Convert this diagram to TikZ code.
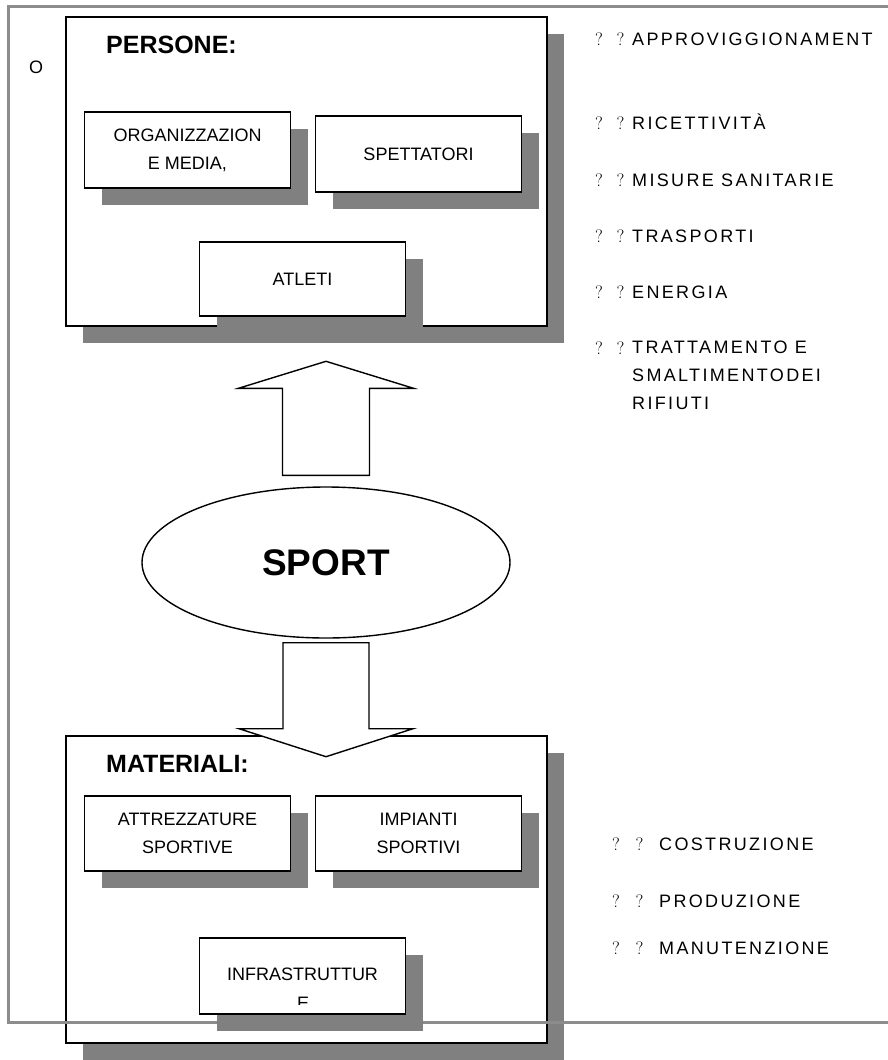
\documentclass[tikz,border=0pt]{standalone}
\usepackage{fontspec}
\usetikzlibrary{shapes.geometric,shadows}
\newfontfamily\boxfont{Liberation Sans}
\newfontfamily\listfont[LetterSpace=13]{Liberation Sans}
\definecolor{shadowgray}{RGB}{128,128,128}
\definecolor{framegray}{RGB}{140,140,140}

\begin{document}
\begin{tikzpicture}[x=1pt, y=-1pt,
		shadowed/.style={drop shadow={shadow xshift=17pt, shadow yshift=-17pt, opacity=1, fill=shadowgray}},
		groupbox/.style={draw, rectangle, line width=1.8pt, fill=white, shadowed, minimum width=481pt, inner sep=0pt},
		itembox/.style={draw, rectangle, line width=1.8pt, fill=white, shadowed, minimum width=206pt, minimum height=76pt, inner sep=0pt, align=center, font=\boxfont\fontsize{18}{28}\selectfont},
		boxtext/.style={anchor=base, inner sep=0pt, font=\boxfont\fontsize{18}{28}\selectfont},
		title/.style={anchor=base west, inner sep=0pt, font=\boxfont\bfseries\fontsize{25}{30}\selectfont},
		qmark/.style={anchor=base west, inner sep=0pt, font=\fontsize{18}{28}\selectfont},
		listitem/.style={anchor=base west, inner sep=0pt, align=left, font=\listfont\fontsize{18}{28}\selectfont},
		bigarrow/.style={draw, line width=1.4pt, fill=white, line join=miter}]
					\useasboundingbox (0,0) rectangle (888,1060);
					\node[groupbox, minimum height=309pt] (persone) at (306.5,171.5) {};
					\node[groupbox, minimum height=307pt] (materiali) at (306.5,889.5) {};
					\draw[framegray, line width=3pt, line join=miter] (888,6) -- (8,6) -- (8,1022) -- (888,1022);
					\node[itembox] (org) at (187.5,150) {ORGANIZZAZION\\E MEDIA,};
					\node[itembox] (spett) at (418.5,154) {SPETTATORI};
					\node[itembox, minimum height=74pt] (atleti) at (302.5,279) {ATLETI};
					\node[itembox, minimum height=75pt] (attrezz) at (187.5,833.5) {ATTREZZATURE\\SPORTIVE};
					\node[itembox, minimum height=75pt] (impianti) at (418.5,833.5) {IMPIANTI\\SPORTIVI};
					\node[itembox] (infra) at (302.5,976) {};
					\begin{scope}
						\clip (200,938) rectangle (405,1004.5);
						\node[boxtext] (infratext) at (302.5,980) {INFRASTRUTTUR};
						\node[boxtext] (infratextb) at (303,1009) {E};
					\end{scope}
					\node[draw, ellipse, line width=1.4pt, fill=white, minimum width=368pt, minimum height=151pt, inner sep=0pt, font=\boxfont\bfseries\fontsize{37}{40}\selectfont] (sport) at (326,562.5) {SPORT};
					\coordinate (uptail) at ([yshift=11pt]sport.north);
					\coordinate (downtail) at ([yshift=-4pt]sport.south);
					\draw[bigarrow] (uptail) ++(-43.5,0) -- ++(0,-87) -- ++(-44,0) -- ++(87.5,-27) -- ++(87.5,27) -- ++(-44,0) -- ++(0,87) -- cycle;
					\draw[bigarrow] (downtail) ++(-43,0) -- ++(0,86) -- ++(-44,0) -- ++(87,28) -- ++(87,-28) -- ++(-44,0) -- ++(0,-86) -- cycle;
					\node[title] (personetitle) at (106,53) {PERSONE:};
					\node[title] (materialititle) at (106,772) {MATERIALI:};
					\node[boxtext] (o) at (36,73.5) {O};
					\node[qmark] (q1) at (595,45) {?\hspace{13.5pt}?};
					\node[listitem] (r1) at (632,45) {APPROVIGGIONAMENT};
					\node[qmark] (q2) at (595,129) {?\hspace{13.5pt}?};
					\node[listitem] (r2) at (632,129) {RICETTIVITÀ};
					\node[qmark] (q3) at (595,186) {?\hspace{13.5pt}?};
					\node[listitem] (r3) at (632,186) {MISURE SANITARIE};
					\node[qmark] (q4) at (595,242) {?\hspace{13.5pt}?};
					\node[listitem] (r4) at (632,242) {TRASPORTI};
					\node[qmark] (q5) at (595,298) {?\hspace{13.5pt}?};
					\node[listitem] (r5) at (632,298) {ENERGIA};
					\node[qmark] (q6) at (595,354) {?\hspace{13.5pt}?};
					\node[listitem, anchor=north west] (r6) at (632,341) {TRATTAMENTO E\\SMALTIMENTODEI\\RIFIUTI};
					\node[qmark] (q7) at (612,850) {?\hspace{15.5pt}?};
					\node[listitem] (r7) at (659,850) {COSTRUZIONE};
					\node[qmark] (q8) at (612,907) {?\hspace{15.5pt}?};
					\node[listitem] (r8) at (659,907) {PRODUZIONE};
					\node[qmark] (q9) at (612,954) {?\hspace{15.5pt}?};
					\node[listitem] (r9) at (659,954) {MANUTENZIONE};
				\end{tikzpicture}
\end{document}
